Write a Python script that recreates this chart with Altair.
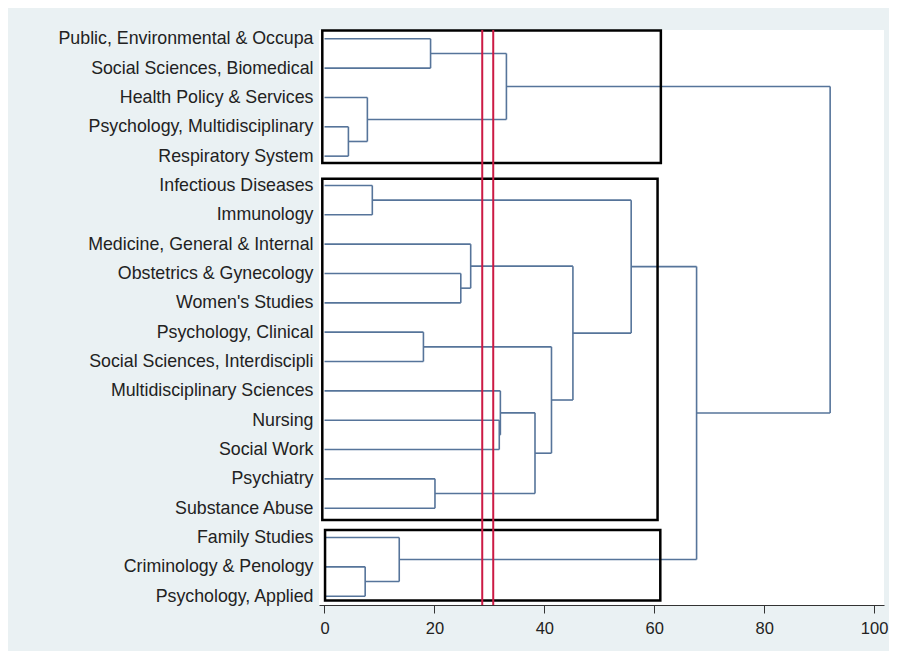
import json
import altair as alt
import pandas as pd

# Leaves, top to bottom
leaves = [
    "Public, Environmental & Occupa",
    "Social Sciences, Biomedical",
    "Health Policy & Services",
    "Psychology, Multidisciplinary",
    "Respiratory System",
    "Infectious Diseases",
    "Immunology",
    "Medicine, General & Internal",
    "Obstetrics & Gynecology",
    "Women's Studies",
    "Psychology, Clinical",
    "Social Sciences, Interdiscipli",
    "Multidisciplinary Sciences",
    "Nursing",
    "Social Work",
    "Psychiatry",
    "Substance Abuse",
    "Family Studies",
    "Criminology & Penology",
    "Psychology, Applied",
]

# Merges: node id, left child, right child, dissimilarity height
merge_node = ["A", "B", "C", "D", "E", "F", "G", "H", "I", "J",
              "K", "L", "M", "N", "O", "P", "Q", "R", "S"]
merge_left = ["Public, Environmental & Occupa", "Psychology, Multidisciplinary",
              "Health Policy & Services", "A", "Infectious Diseases",
              "Obstetrics & Gynecology", "Medicine, General & Internal",
              "Psychology, Clinical", "Nursing", "Multidisciplinary Sciences",
              "Psychiatry", "J", "H", "G", "E", "Criminology & Penology",
              "Family Studies", "O", "D"]
merge_right = ["Social Sciences, Biomedical", "Respiratory System", "B", "C",
               "Immunology", "Women's Studies", "F",
               "Social Sciences, Interdiscipli", "Social Work", "I",
               "Substance Abuse", "K", "L", "M", "N", "Psychology, Applied",
               "P", "Q", "R"]
merge_height = [19.3, 4.35, 7.8, 33.1, 8.7, 24.8, 26.6, 18.0, 31.8, 32.0,
                20.1, 38.3, 41.3, 45.2, 55.8, 7.4, 13.6, 67.7, 92.0]

# Cut lines
cut_values = [28.7, 30.7]

# Cluster boxes (x in dissimilarity, y in leaf positions)
box_x0 = [-0.4, -0.4, 0.1]
box_x1 = [61.2, 60.6, 61.1]
box_y0 = [0.72, 5.77, 17.74]
box_y1 = [5.23, 17.4, 20.15]

# Build dendrogram segments
pos = {name: (0.0, i + 1) for i, name in enumerate(leaves)}
segs = []
for node, l, r, h in zip(merge_node, merge_left, merge_right, merge_height):
    xl, yl = pos[l]
    xr, yr = pos[r]
    segs.append({"x": xl, "x2": h, "y": yl, "y2": yl})
    segs.append({"x": xr, "x2": h, "y": yr, "y2": yr})
    segs.append({"x": h, "x2": h, "y": yl, "y2": yr})
    pos[node] = (h, (yl + yr) / 2)
seg_df = pd.DataFrame(segs)
cut_df = pd.DataFrame({"x": cut_values})
box_df = pd.DataFrame({"x": box_x0, "x2": box_x1, "y": box_y0, "y2": box_y1})

xscale = alt.Scale(domain=[-1, 101.8], nice=False, zero=False)
yscale = alt.Scale(domain=[0.7, 20.3], nice=False, zero=False, reverse=True)

label_expr = json.dumps(leaves) + "[datum.value - 1]"

xaxis = alt.Axis(values=[0, 20, 40, 60, 80, 100], title=None, grid=False,
                 tickSize=8, labelPadding=7, domainColor="#333333",
                 tickColor="#333333", labelFontSize=16.5, labelColor="#222222",
                 labelFont="Liberation Sans", format="d", labelOverlap=False)
yaxis = alt.Axis(values=list(range(1, len(leaves) + 1)), labelExpr=label_expr,
                 title=None, grid=False, ticks=False, domain=False,
                 labelPadding=6, labelFontSize=17.8, labelColor="#222222",
                 labelFont="Liberation Sans", labelLimit=400,
                 labelOverlap=False, labelSeparation=0)

dendro = alt.Chart(seg_df).mark_rule(color="#56749a", strokeWidth=1.6).encode(
    x=alt.X("x:Q", scale=xscale, axis=xaxis),
    x2="x2:Q",
    y=alt.Y("y:Q", scale=yscale, axis=yaxis),
    y2="y2:Q",
)

boxes = alt.Chart(box_df).mark_rect(filled=False, stroke="#000000",
                                    strokeWidth=2.5).encode(
    x=alt.X("x:Q", scale=xscale, axis=xaxis),
    x2="x2:Q",
    y=alt.Y("y:Q", scale=yscale, axis=yaxis),
    y2="y2:Q",
)

cuts = alt.Chart(cut_df).mark_rule(color="#cc1a44", strokeWidth=2).encode(
    x=alt.X("x:Q", scale=xscale, axis=xaxis),
)

chart = alt.layer(dendro, boxes, cuts).properties(
    width=565,
    height=575,
    padding={"left": 311, "top": 22, "right": 5, "bottom": 46},
    autosize=alt.AutoSizeParams(type="none"),
    background="#eaf1f3",
).configure_view(fill="white", strokeWidth=0).configure_axisY(
    labelOverlap=False
)

chart.save("out.html", embed_options={"renderer": "svg", "actions": False})
